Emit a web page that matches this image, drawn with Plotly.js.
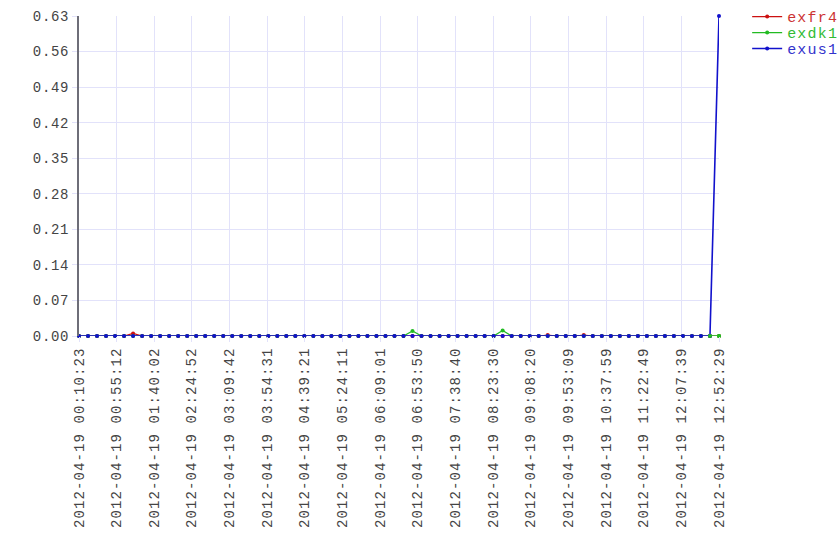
<!DOCTYPE html>
<html>
<head>
<meta charset="utf-8">
<script src="https://cdn.plot.ly/plotly-3.0.1.min.js"></script>
<style>
html,body{margin:0;padding:0;background:#fff;}
#chart{width:840px;height:560px;}
.xtick text { letter-spacing: 1.1px; }
.ytick text { letter-spacing: 0.7px; }
.legend .legendtext { letter-spacing: 1.2px; }
</style>
</head>
<body>
<div id="chart"></div>
<script>
const times = [
"2012-04-19 00:10:23","2012-04-19 00:21:07","2012-04-19 00:31:51","2012-04-19 00:42:35","2012-04-19 00:53:19",
"2012-04-19 01:04:03","2012-04-19 01:14:47","2012-04-19 01:25:31","2012-04-19 01:36:15","2012-04-19 01:46:59",
"2012-04-19 01:57:43","2012-04-19 02:08:27","2012-04-19 02:19:11","2012-04-19 02:29:55","2012-04-19 02:40:39",
"2012-04-19 02:51:23","2012-04-19 03:02:07","2012-04-19 03:12:51","2012-04-19 03:23:35","2012-04-19 03:34:19",
"2012-04-19 03:45:03","2012-04-19 03:55:47","2012-04-19 04:06:31","2012-04-19 04:17:15","2012-04-19 04:27:59",
"2012-04-19 04:38:43","2012-04-19 04:49:27","2012-04-19 05:00:11","2012-04-19 05:10:55","2012-04-19 05:21:39",
"2012-04-19 05:32:23","2012-04-19 05:43:07","2012-04-19 05:53:51","2012-04-19 06:04:35","2012-04-19 06:15:19",
"2012-04-19 06:26:03","2012-04-19 06:36:47","2012-04-19 06:47:31","2012-04-19 06:58:15","2012-04-19 07:08:59",
"2012-04-19 07:19:43","2012-04-19 07:30:27","2012-04-19 07:41:11","2012-04-19 07:51:55","2012-04-19 08:02:39",
"2012-04-19 08:13:23","2012-04-19 08:24:07","2012-04-19 08:34:51","2012-04-19 08:45:35","2012-04-19 08:56:19",
"2012-04-19 09:07:03","2012-04-19 09:17:47","2012-04-19 09:28:31","2012-04-19 09:39:15","2012-04-19 09:49:59",
"2012-04-19 10:00:43","2012-04-19 10:11:27","2012-04-19 10:22:11","2012-04-19 10:32:55","2012-04-19 10:43:39",
"2012-04-19 10:54:23","2012-04-19 11:05:07","2012-04-19 11:15:51","2012-04-19 11:26:35","2012-04-19 11:37:19",
"2012-04-19 11:48:03","2012-04-19 11:58:47","2012-04-19 12:09:31","2012-04-19 12:20:15","2012-04-19 12:30:59",
"2012-04-19 12:41:43","2012-04-19 12:52:29"
];

const exfr4 = [
0,0,0,0,0, 0,0.005,0,0,0, 0,0,0,0,0, 0,0,0,0,0,
0,0,0,0,0, 0,0,0,0,0, 0,0,0,0,0, 0,0,0,0,0,
0,0,0,0,0, 0,0,0,0,0, 0,0,0.002,0,0, 0,0.002,0,0,0,
0,0,0,0,0, 0,0,0,0,0, 0,0
];
const exdk1 = [
0,0,0,0,0, 0,0,0,0,0, 0,0,0,0,0, 0,0,0,0,0,
0,0,0,0,0, 0,0,0,0,0, 0,0,0,0,0, 0,0,0.01,0,0,
0,0,0,0,0, 0,0,0.011,0,0, 0,0,0,0,0, 0,0,0,0,0,
0,0,0,0,0, 0,0,0,0,0, 0,0
];
const exus1 = [
0,0,0,0,0, 0,0,0,0,0, 0,0,0,0,0, 0,0,0,0,0,
0,0,0,0,0, 0,0,0,0,0, 0,0,0,0,0, 0,0,0,0,0,
0,0,0,0,0, 0,0,0,0,0, 0,0,0,0,0, 0,0,0,0,0,
0,0,0,0,0, 0,0,0,0,0, 0,0.63
];
const seriesNames = ["exfr4","exdk1","exus1"];
const seriesColors = ["#cc1111","#22bb22","#1111cc"];
const legendTextColors = ["#cc3333","#33bb33","#3333cc"];

const xTicks = [
"2012-04-19 00:10:23","2012-04-19 00:55:12","2012-04-19 01:40:02","2012-04-19 02:24:52",
"2012-04-19 03:09:42","2012-04-19 03:54:31","2012-04-19 04:39:21","2012-04-19 05:24:11",
"2012-04-19 06:09:01","2012-04-19 06:53:50","2012-04-19 07:38:40","2012-04-19 08:23:30",
"2012-04-19 09:08:20","2012-04-19 09:53:09","2012-04-19 10:37:59","2012-04-19 11:22:49",
"2012-04-19 12:07:39","2012-04-19 12:52:29"
];
const yTicks = [0,0.07,0.14,0.21,0.28,0.35,0.42,0.49,0.56,0.63];

const font = "Liberation Mono, Courier New, monospace";
const allY = [exfr4, exdk1, exus1];
const data = allY.map((ys, i) => ({
  x: times, y: ys, name: seriesNames[i], type: 'scatter', mode: 'lines+markers',
  line: {color: seriesColors[i], width: i === 2 ? 1.6 : 1.2},
  marker: {color: seriesColors[i], size: 4},
  cliponaxis: false
}));
data.push({x: times.slice(-2), y: exdk1.slice(-2), type:'scatter', mode:'lines+markers',
  line:{color:seriesColors[1], width:1.2}, marker:{color:seriesColors[1], size:4},
  showlegend:false, hoverinfo:'skip', cliponaxis:false});

const layout = {
  width: 840, height: 560,
  margin: {l: 79, r: 121, t: 16, b: 224, pad: 0, autoexpand: false},
  paper_bgcolor: '#fff', plot_bgcolor: '#fff',
  font: {family: font, size: 14, color: '#444'},
  showlegend: true,
  legend: {x: 1.044, y: 1.049, xanchor: 'left', yanchor: 'top', font: {family: font, size: 15},
    tracegroupgap: 0, bgcolor: 'rgba(0,0,0,0)'},
  xaxis: {
    type: 'date', range: [times[0], times[times.length-1]],
    tickmode: 'array', tickvals: xTicks, ticktext: xTicks,
    tickangle: -90, tickfont: {family: font, size: 14, color: '#444'},
    showgrid: true, gridcolor: '#e2e2fa', gridwidth: 1,
    ticks: 'outside', ticklen: 5, tickcolor: '#e2e2fa',
    showline: false, zeroline: false, automargin: false
  },
  yaxis: {
    range: [0, 0.63], tickmode: 'array', tickvals: yTicks, tickformat: '.2f',
    tickfont: {family: font, size: 14, color: '#444'},
    showgrid: true, gridcolor: '#e2e2fa', gridwidth: 1,
    ticks: 'outside', ticklen: 5, tickcolor: '#e2e2fa',
    showline: true, linecolor: '#6e6e78', linewidth: 2, zeroline: false, automargin: false
  }
};
Plotly.newPlot('chart', data, layout, {displayModeBar: false, staticPlot: true}).then(gd => {
  const items = gd.querySelectorAll('.legend .traces');
  let x0 = 0, y0 = null;
  items.forEach((g, i) => {
    const m = /translate\(([-\d.]+),\s*([-\d.]+)\)/.exec(g.getAttribute('transform') || '');
    if (m) { if (y0 === null) { x0 = parseFloat(m[1]); y0 = parseFloat(m[2]); } }
    g.setAttribute('transform', `translate(${x0},${(y0 || 0) + 16 * i})`);
    const t = g.querySelector('.legendtext');
    if (t) t.style.fill = legendTextColors[i];
  });
});
</script>
</body>
</html>
